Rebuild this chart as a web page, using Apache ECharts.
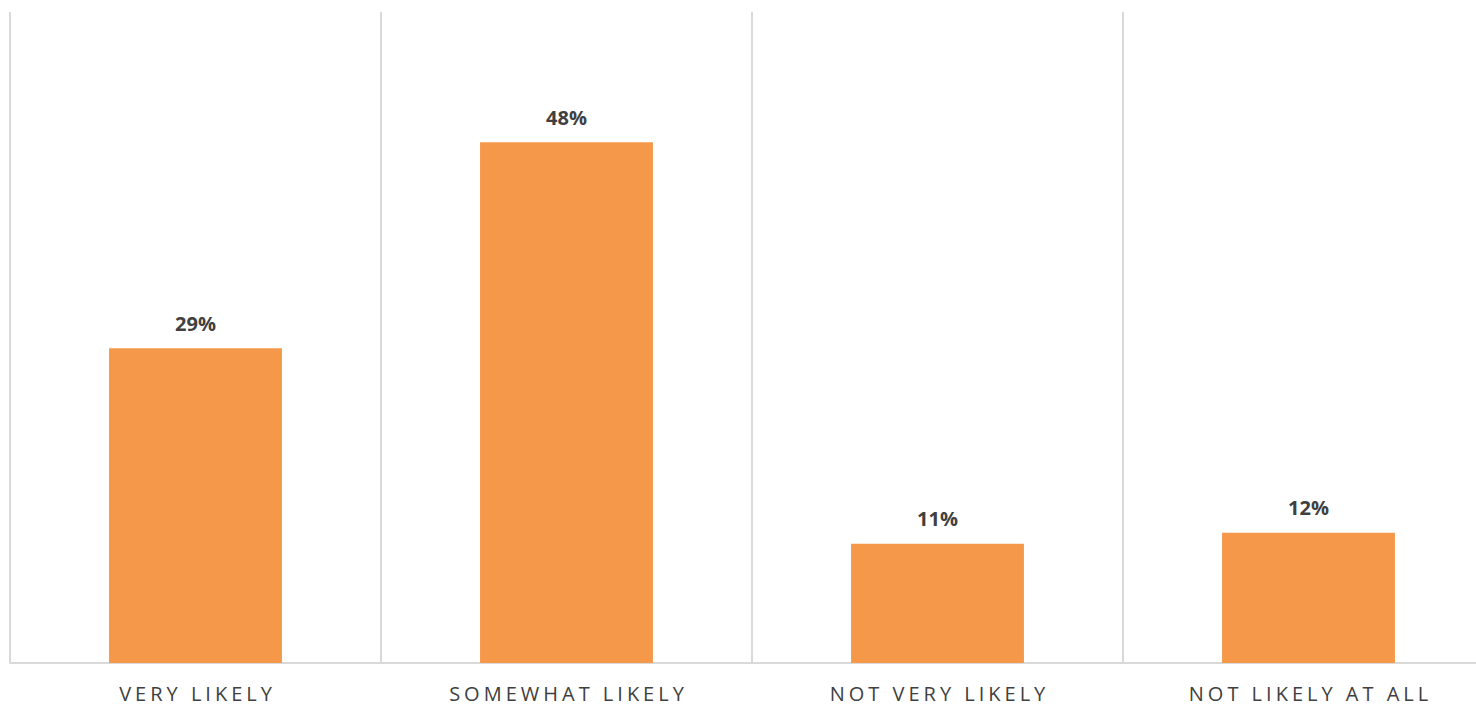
<!DOCTYPE html>
<html><head><meta charset="utf-8">
<script src="https://cdn.jsdelivr.net/npm/echarts@6/dist/echarts.min.js"></script>
<style>html,body{margin:0;padding:0;background:#fff}#c{width:1476px;height:705px}</style>
</head><body><div id="c"></div>
<script>
const categories = ['VERY LIKELY', 'SOMEWHAT LIKELY', 'NOT VERY LIKELY', 'NOT LIKELY AT ALL'];
const values = [29, 48, 11, 12];

const chart = echarts.init(document.getElementById('c'), null, {renderer: 'svg'});
chart.setOption({
  animation: false,
  grid: {left: 10, top: 12, right: -18, bottom: 42, containLabel: false, outerBoundsMode: 'none'},
  xAxis: {
    type: 'category', data: categories, boundaryGap: true,
    axisLine: {show: true, lineStyle: {color: '#d9d9d9', width: 2}},
    axisTick: {show: false},
    splitLine: {show: true, lineStyle: {color: '#d9d9d9', width: 2}},
    axisLabel: {color: '#404040', fontSize: 20, fontFamily: 'Open Sans', margin: 20, interval: 0}
  },
  yAxis: {type: 'value', min: 0, max: 60, show: false, splitLine: {show: false}},
  series: [{
    type: 'bar', data: values, barWidth: '46.6%',
    itemStyle: {color: '#F69849'},
    label: {show: true, position: 'top', distance: 15, formatter: '{c}%',
      color: '#404040', fontWeight: 'bold', fontSize: 20, fontFamily: 'Open Sans'}
  }]
});
function spaceLabels(){
  document.querySelectorAll('#c svg text').forEach(t => {
    if (categories.includes(t.textContent)) {
      t.setAttribute('letter-spacing', '4px');
      t.setAttribute('dx', '2');
    }
  });
}
spaceLabels();
chart.on('finished', spaceLabels);
</script></body></html>
